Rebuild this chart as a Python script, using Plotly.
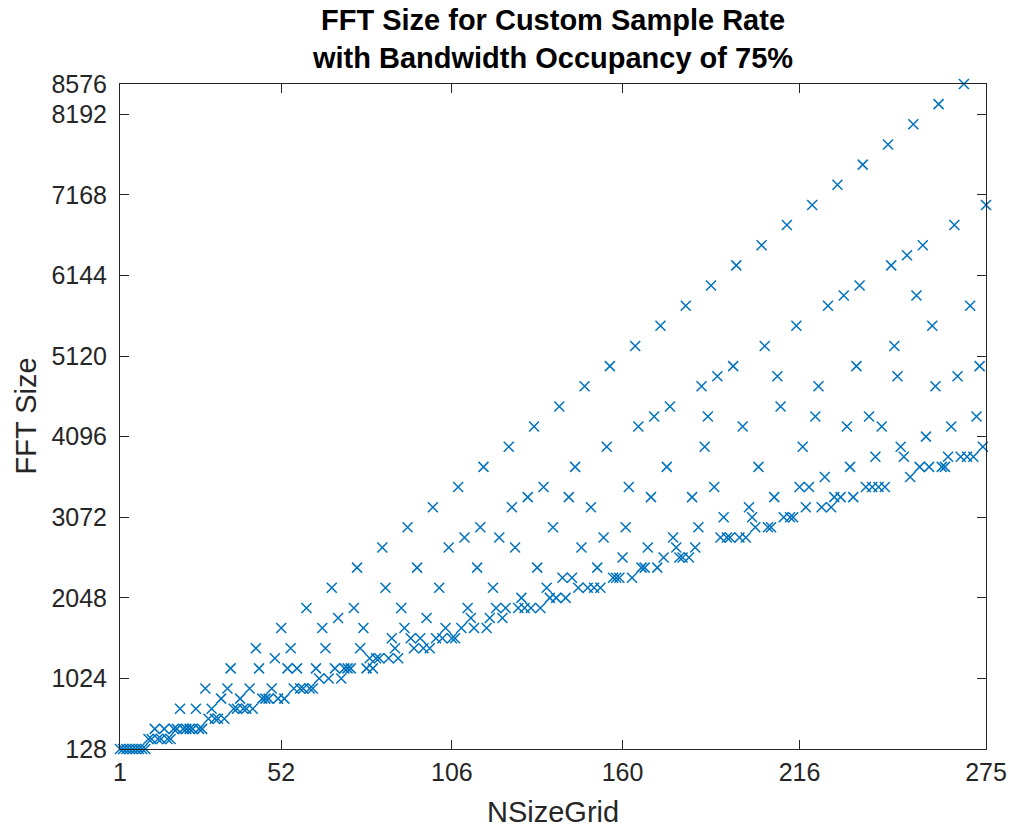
import plotly.graph_objects as go

# NSizeGrid values (x)
nsize_grid = [
    1, 2, 3, 4, 5, 6, 7, 8, 9, 10, 11, 12, 13, 14, 15, 16, 17, 18, 19, 20,
    21, 22, 23, 24, 25, 26, 27, 28, 29, 30, 31, 32, 33, 34, 35, 36, 37, 38, 39, 40,
    41, 42, 43, 44, 45, 46, 47, 48, 49, 50, 51, 52, 53, 54, 55, 56, 57, 58, 59, 60,
    61, 62, 63, 64, 65, 66, 67, 68, 69, 70, 71, 72, 73, 74, 75, 76, 77, 78, 79, 80,
    81, 82, 83, 84, 85, 86, 87, 88, 89, 90, 91, 92, 93, 94, 95, 96, 97, 98, 99, 100,
    101, 102, 103, 104, 105, 106, 107, 108, 109, 110, 111, 112, 113, 114, 115, 116, 117, 118, 119, 120,
    121, 122, 123, 124, 125, 126, 127, 128, 129, 130, 131, 132, 133, 134, 135, 136, 137, 138, 139, 140,
    141, 142, 143, 144, 145, 146, 147, 148, 149, 150, 151, 152, 153, 154, 155, 156, 157, 158, 159, 160,
    161, 162, 163, 164, 165, 166, 167, 168, 169, 170, 171, 172, 173, 174, 175, 176, 177, 178, 179, 180,
    181, 182, 183, 184, 185, 186, 187, 188, 189, 190, 191, 192, 193, 194, 195, 196, 197, 198, 199, 200,
    201, 202, 203, 204, 205, 206, 207, 208, 209, 210, 211, 212, 213, 214, 215, 216, 217, 218, 219, 220,
    221, 222, 223, 224, 225, 226, 227, 228, 229, 230, 231, 232, 233, 234, 235, 236, 237, 238, 239, 240,
    241, 242, 243, 244, 245, 246, 247, 248, 249, 250, 251, 252, 253, 254, 255, 256, 257, 258, 259, 260,
    261, 262, 263, 264, 265, 266, 267, 268, 269, 270, 271, 272, 273, 274, 275,
]

# FFT size for each NSizeGrid (y)
fft_size = [
    128, 128, 128, 128, 128, 128, 128, 128, 128, 256,
    256, 384, 256, 256, 384, 256, 256, 384, 384, 640,
    384, 384, 384, 384, 640, 384, 384, 896, 512, 640,
    512, 512, 768, 512, 896, 1152, 640, 640, 768, 640,
    640, 896, 640, 1408, 1152, 768, 768, 768, 896, 1280,
    768, 1664, 768, 1152, 1408, 896, 1152, 896, 896, 1920,
    896, 896, 1152, 1024, 1664, 1408, 1024, 2176, 1152, 1792,
    1024, 1152, 1152, 1152, 1920, 2432, 1408, 1664, 1152, 1280,
    1152, 1280, 1280, 2688, 2176, 1280, 1536, 1408, 1280, 1920,
    1664, 2944, 1536, 1408, 2432, 1536, 1408, 1792, 1408, 3200,
    1536, 2176, 1536, 1664, 2688, 1536, 1536, 3456, 1664, 2816,
    1920, 1792, 1664, 2432, 2944, 3712, 1664, 1792, 2176, 1920,
    2816, 1792, 1920, 3968, 3200, 2688, 1920, 2048, 1920, 3328,
    1920, 4224, 2432, 1920, 3456, 2176, 2048, 2944, 2048, 4480,
    2304, 2048, 3328, 2304, 3712, 2176, 2688, 4736, 2176, 3200,
    2176, 2432, 2176, 2816, 3968, 4992, 2304, 2304, 2304, 2560,
    2944, 3456, 2304, 5248, 4224, 2432, 2432, 2688, 3328, 4352,
    2432, 5504, 2560, 3712, 4480, 2816, 2688, 2560, 2560, 5760,
    2560, 3328, 2688, 2944, 4736, 3968, 4352, 6016, 3456, 4864,
    2816, 3072, 2816, 2816, 4992, 6272, 2816, 4224, 2816, 3200,
    3072, 2944, 3712, 6528, 5248, 2944, 2944, 3328, 4864, 4480,
    3072, 6784, 3072, 3072, 5504, 3456, 3968, 3200, 3456, 7040,
    4352, 4736, 3200, 3584, 5760, 3200, 3328, 7296, 3328, 5888,
    4224, 3712, 3328, 4992, 6016, 7552, 3456, 4352, 3456, 3840,
    3456, 4224, 3456, 7808, 6272, 5248, 4864, 3968, 3840, 6400,
    3584, 8064, 5888, 3712, 6528, 4096, 3712, 5504, 4736, 8320,
    3712, 3712, 3840, 4224, 6784, 4864, 3840, 8576, 3840, 5760,
    3840, 4352, 4992, 3968, 7040,
]

x_ticks = [1, 52, 106, 160, 216, 275]
y_ticks = [128, 1024, 2048, 3072, 4096, 5120, 6144, 7168, 8192, 8576]

FONT = "Liberation Sans, Arial, Helvetica, sans-serif"
AX = "#262626"
BLUE = "#0072BD"

W, H = 1011, 828
ML, MR, MT, MB = 120, 25, 84, 79
PW, PH = W - ML - MR, H - MT - MB

fig = go.Figure(
    go.Scatter(
        x=nsize_grid,
        y=fft_size,
        mode="markers",
        marker=dict(symbol="x-thin", size=10, color=BLUE,
                    line=dict(color=BLUE, width=1.5)),
        cliponaxis=False,
        showlegend=False,
    )
)

axis_common = dict(
    ticks="inside", ticklen=9, tickwidth=1, tickcolor=AX,
    showline=True, linecolor=AX, linewidth=1, mirror="ticks",
    showgrid=False, zeroline=False,
    tickfont=dict(family=FONT, size=25, color=AX),
    automargin=False,
)

fig.update_layout(
    width=W, height=H,
    paper_bgcolor="white", plot_bgcolor="white",
    margin=dict(l=ML, r=MR, t=MT, b=MB),
    font=dict(family=FONT, color=AX),
    title=dict(
        text="<b>FFT Size for Custom Sample Rate<br>with Bandwidth Occupancy of 75%</b>",
        x=0.5, xref="paper", xanchor="center",
        y=1 - 30 / H, yref="container", yanchor="middle",
        font=dict(family=FONT, size=29, color="#000000"),
    ),
    xaxis=dict(
        range=[1, 275], tickvals=x_ticks, ticktext=[str(v) for v in x_ticks],
        ticklabelstandoff=1,
        **axis_common,
    ),
    yaxis=dict(
        range=[128, 8576], tickvals=y_ticks, ticktext=[str(v) for v in y_ticks],
        ticklabelstandoff=7,
        **axis_common,
    ),
    annotations=[
        dict(text="NSizeGrid", xref="paper", yref="paper",
             x=0.5, y=-(812 - (H - MB)) / PH, xanchor="center", yanchor="middle",
             showarrow=False, font=dict(family=FONT, size=29, color=AX)),
        dict(text="FFT Size", xref="paper", yref="paper",
             x=(25 - ML) / PW, y=0.5, xanchor="center", yanchor="middle",
             textangle=-90, showarrow=False,
             font=dict(family=FONT, size=29, color=AX)),
    ],
)

fig.write_html(
    "out.html",
    config={"displayModeBar": False},
    post_script="document.body.style.margin='0px';"
                "document.documentElement.style.overflow='hidden';",
)
